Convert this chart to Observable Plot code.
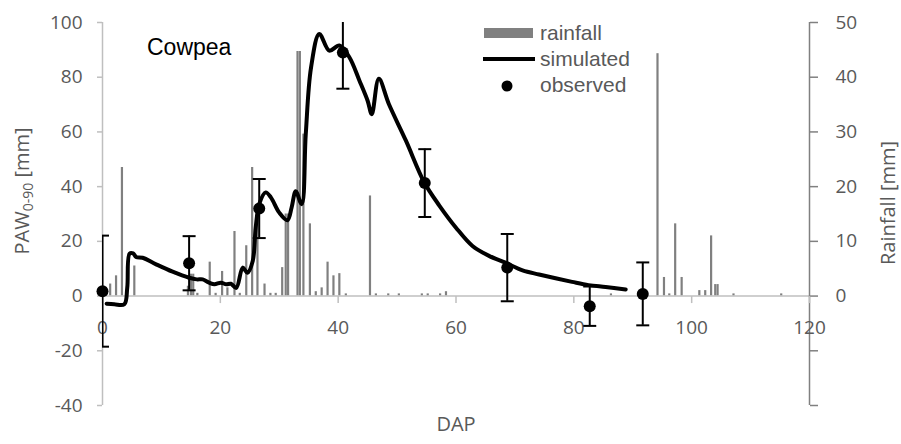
<!DOCTYPE html>
<html><head><meta charset="utf-8">
<script src="https://cdn.jsdelivr.net/npm/d3@7"></script>
<script src="https://cdn.jsdelivr.net/npm/@observablehq/plot@0.6"></script>
<style>
body{margin:0;background:#fff}
#wrap{position:relative;width:901px;height:444px}
#overlay{position:absolute;left:0;top:0;pointer-events:none}
</style></head>
<body><div id="wrap"></div>
<script>
// Rainfall [mm] by DAP
const rainDap = [1.3,2.3,3.3,5.4,14.5,15.0,15.4,16.1,18.2,19.2,20.3,21.2,22.4,23.3,24.4,25.4,26.3,27.5,28.5,29.4,30.5,31.1,31.5,33.1,33.5,34.1,35.2,36.2,37.2,38.2,39.2,40.2,41.3,45.4,46.4,48.5,50.3,54.2,55.2,57.3,58.3,86.3,94.2,95.3,96.2,97.2,98.3,101.3,102.3,103.3,104.0,104.4,107.1,115.2];
const rainMm  = [2.2,3.7,23.5,5.5,1.8,4.0,4.0,0.5,6.2,0.5,4.5,1.5,11.8,0.5,9.2,23.5,15.0,2.2,0.5,0.5,5.2,15.0,15.0,44.7,44.7,29.6,13.2,0.8,1.5,6.2,3.7,4.1,0.4,18.3,0.4,0.4,0.4,0.4,0.4,0.4,0.8,0.4,44.3,3.4,0.4,13.2,3.4,1.0,1.0,11.0,2.1,2.1,0.4,0.4];

// Simulated PAW0-90 [mm]
const simDap = [0.7,2,3.7,4.2,4.6,5.2,5.7,6.8,9.1,11.9,14.7,16,17,18.1,19,20.1,21,21.8,22.7,23.8,24.6,25.5,26,26.6,27.7,28.6,30,31.4,32.1,32.8,33.8,34.5,35.4,36.8,38.5,40.2,41.9,43.6,45,45.7,46.9,48.6,51.5,54.6,57.2,60,62.8,65.6,68.4,71.3,74.1,76.9,79.7,82.5,85.4,88.8];
const simPaw = [-2.8,-3,-3,3,15.5,15.6,14.3,14,11.6,8.9,6.7,6.1,6.1,4.9,4.3,4.9,4.3,4.5,3,10.4,8.5,12.8,25,33.6,37.9,36,30.5,27.7,32.4,38.3,33.6,59.2,83.6,95.8,89.7,91.6,87.3,78.8,71.4,66.5,79.4,70.2,56.8,41.6,33,25,18.3,14.7,12.2,9.4,7.9,6.5,5.2,4,3.3,2.4];

// Observed PAW0-90 [mm] with error
const obsDap = [0, 14.7, 26.6, 40.8, 54.7, 68.7, 82.7, 91.7];
const obsPaw = [1.8, 12, 32, 89, 41.3, 10.4, -3.7, 0.8];
const obsErr = [20.3, 9.9, 10.8, 13.2, 12.4, 12.3, 7.2, 11.5];

const xTicks = [0,20,40,60,80,100,120];
const yTicks = [-40,-20,0,20,40,60,80,100];
const rainTicks = [0,10,20,30,40,50];
const rainFactor = 2; // 50 mm rainfall aligns with 100 mm PAW

const rain = rainDap.map((d,i)=>({dap:d, mm:rainMm[i]}));
const sim = simDap.map((d,i)=>({dap:d, paw:simPaw[i]}));
const obs = obsDap.map((d,i)=>({dap:d, paw:obsPaw[i], err:obsErr[i]}));

const tickDown = {draw(c){c.moveTo(0,0);c.lineTo(0,7);}};
const cap = {draw(c){c.moveTo(-6.5,0);c.lineTo(6.5,0);}};

const chart = Plot.plot({
  width: 901, height: 444,
  marginLeft: 102, marginRight: 92, marginTop: 22, marginBottom: 39,
  style: {fontFamily: "'Open Sans', sans-serif", fontSize: "19px", color: "#595959", background: "white"},
  x: {domain: [0,120], axis: null},
  y: {domain: [-40,100], axis: null},
  marks: [
    Plot.ruleX(rain, {x: "dap", y1: 0, y2: d => d.mm*rainFactor, stroke: "#808080", strokeWidth: 2.2}),
    Plot.ruleY([0], {stroke: "#bfbfbf", strokeWidth: 1.5}),
    Plot.ruleX([0], {stroke: "#bfbfbf", strokeWidth: 1.5}),
    Plot.ruleX([120], {stroke: "#808080", strokeWidth: 1.5}),
    Plot.axisY({anchor: "left", ticks: yTicks, tickSize: 5, tickPadding: 15, tickFormat: d => String(d), stroke: "#bfbfbf", strokeWidth: 1.5, fill: "#595959", fontSize: 19, label: null}),
    Plot.axisY({anchor: "right", ticks: yTicks, tickSize: 8, stroke: "#808080", strokeWidth: 1.5, text: null, label: null}),
    Plot.axisY({anchor: "right", ticks: rainTicks.map(r => r*rainFactor), tickSize: 0, tickPadding: 26, tickFormat: d => String(d/rainFactor), fill: "#595959", fontSize: 19, textAnchor: "start", label: null}),
    Plot.dot(xTicks, {x: d => d, y: 0, symbol: tickDown, stroke: "#bfbfbf", strokeWidth: 1.5, fill: "none"}),
    Plot.text(xTicks, {x: d => d, y: 0, dy: 32, text: d => String(d), fill: "#595959", fontSize: 19}),
    Plot.text(["DAP"], {frameAnchor: "bottom", dy: 25, fill: "#595959", fontSize: 20}),
    Plot.line(sim, {x: "dap", y: "paw", stroke: "black", strokeWidth: 4, curve: "catmull-rom"}),
    Plot.ruleX(obs, {x: "dap", y1: d => d.paw - d.err, y2: d => d.paw + d.err, stroke: "black", strokeWidth: 2, clip: true}),
    Plot.dot(obs, {x: "dap", y: d => d.paw - d.err, symbol: cap, stroke: "black", strokeWidth: 2, fill: "none", clip: true}),
    Plot.dot(obs, {x: "dap", y: d => d.paw + d.err, symbol: cap, stroke: "black", strokeWidth: 2, fill: "none", clip: true}),
    Plot.dot(obs, {x: "dap", y: "paw", r: 6, fill: "black", stroke: "none"})
  ]
});
const wrap = document.getElementById("wrap");
wrap.appendChild(chart);

const ov = document.createElementNS("http://www.w3.org/2000/svg","svg");
ov.setAttribute("id","overlay");
ov.setAttribute("width","901"); ov.setAttribute("height","444");
ov.innerHTML = `
 <text x="147" y="55" font-family="'Liberation Sans', Arial, sans-serif" font-size="23" fill="#000">Cowpea</text>
 <g font-family="'Liberation Sans', Arial, sans-serif" font-size="21" fill="#595959">
  <rect x="484" y="28" width="49" height="10" fill="#808080"></rect>
  <text x="540" y="40">rainfall</text>
  <line x1="483" x2="535" y1="59" y2="59" stroke="#000" stroke-width="4"></line>
  <text x="540" y="66">simulated</text>
  <circle cx="507" cy="86" r="5.5" fill="#000"></circle>
  <text x="540" y="92">observed</text>
 </g>
 <g font-family="'Open Sans', sans-serif" font-size="20" fill="#595959" text-anchor="middle">
  <text transform="translate(29,191) rotate(-90)">PAW<tspan font-size="14" dy="4">0-90</tspan><tspan dy="-4"> [mm]</tspan></text>
  <text transform="translate(895,203) rotate(-90)">Rainfall [mm]</text>
 </g>`;
wrap.appendChild(ov);
</script></body></html>
